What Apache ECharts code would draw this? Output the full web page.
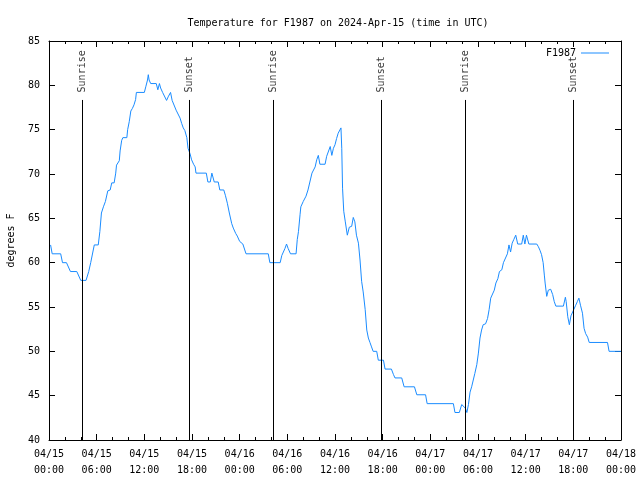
<!DOCTYPE html>
<html>
<head>
<meta charset="utf-8">
<script src="https://cdn.jsdelivr.net/npm/echarts@6/dist/echarts.min.js"></script>
<style>html,body{margin:0;padding:0;background:#fff}#c{width:640px;height:480px}</style>
</head>
<body>
<div id="c"></div>
<script>
// Hours since 2024-04-15 00:00 UTC
const hours = [
0.2,0.4,1.47,1.7,2.2,2.7,3.5,4.0,4.66,5.0,5.25,5.5,5.7,6.2,6.4,6.6,6.85,7.1,7.4,7.7,7.9,8.2,8.4,8.5,8.7,8.85,8.95,9.15,9.3,9.8,9.9,10.1,10.3,10.5,10.7,10.9,11.0,12.0,12.2,12.4,12.5,12.6,12.8,13.5,13.7,13.9,14.05,14.3,14.5,14.8,15.0,15.3,15.5,15.75,16.0,16.2,16.5,16.7,16.9,17.1,17.35,17.5,17.75,17.95,18.2,18.4,18.5,19.8,20.0,20.3,20.5,20.8,21.3,21.5,22.0,22.2,22.45,22.7,23.0,23.2,23.5,23.7,24.0,24.4,24.5,24.8,27.6,27.8,29.1,29.3,29.5,29.7,29.9,30.1,30.4,31.1,31.25,31.4,31.6,31.7,32.0,32.35,32.6,32.85,33.1,33.3,33.5,33.7,33.9,34.1,34.75,34.95,35.1,35.4,35.6,35.8,36.0,36.2,36.4,36.75,36.85,36.95,37.1,37.3,37.55,37.8,38.1,38.3,38.5,38.7,38.95,39.15,39.35,39.55,39.8,40.0,40.2,40.4,40.6,40.8,41.25,41.45,42.1,42.3,43.1,43.35,43.55,44.4,44.7,46.0,46.3,47.4,47.6,50.9,51.1,51.65,51.95,52.15,52.4,52.6,52.8,53.0,53.2,53.4,53.6,53.85,54.05,54.25,54.45,54.65,54.95,55.2,55.4,55.6,55.85,56.05,56.25,56.5,56.7,57.0,57.2,57.45,57.7,57.9,58.1,58.3,58.5,58.75,59.0,59.5,59.7,59.9,60.1,60.4,61.4,61.6,61.8,62.0,62.2,62.35,62.45,62.65,62.85,63.15,63.4,63.6,63.8,64.75,65.0,65.1,65.3,65.5,65.7,65.9,66.05,66.3,66.5,66.7,66.9,67.15,67.35,67.55,67.8,68.0,70.3,70.5,71.5,72.0
];
const temps = [
62.0,61.0,61.0,60.0,60.0,59.0,59.0,58.0,58.0,59.0,60.0,60.0,62.0,62.0,63.5,65.6,66.3,66.9,68.1,68.2,69.0,69.0,70.1,71.0,71.0,71.5,72.6,73.8,74.1,74.1,75.0,75.9,77.1,77.4,77.8,78.4,79.2,79.2,79.9,80.6,81.2,80.6,80.2,80.2,79.5,80.2,79.7,79.2,79.2,78.3,78.7,79.2,78.3,78.2,77.2,77.1,76.3,75.7,75.2,74.9,74.1,72.9,72.3,71.6,71.1,70.8,70.1,70.1,69.1,69.1,70.1,69.1,69.1,68.2,68.2,67.6,66.7,65.6,64.4,63.9,63.3,63.0,62.4,62.1,62.1,61.0,61.0,60.0,60.0,60.8,61.0,61.6,62.1,61.6,61.0,61.0,62.6,63.5,65.4,66.3,66.9,67.5,68.2,68.4,70.1,70.3,70.8,71.6,72.1,71.1,71.1,72.0,72.0,73.1,72.1,72.9,73.3,74.0,74.6,75.2,72.9,68.4,65.8,64.6,63.1,64.0,64.1,65.1,64.6,63.1,62.2,60.3,57.9,56.7,54.7,52.4,51.5,51.0,50.5,50.0,50.0,49.0,49.0,48.0,48.0,47.4,47.0,47.0,46.0,46.0,45.1,45.1,44.1,44.1,43.1,43.1,44.0,44.0,43.6,43.1,44.0,45.4,46.0,46.0,47.5,48.5,49.8,51.5,52.4,53.0,53.1,53.7,54.7,56.0,56.2,56.9,57.7,58.2,59.0,59.2,60.0,60.2,61.0,62.0,61.2,62.2,62.6,63.1,62.1,62.1,63.1,62.1,63.1,62.1,62.1,61.8,61.4,60.9,60.0,58.6,57.7,56.2,56.9,57.0,56.4,55.6,55.1,55.1,56.1,55.6,53.9,53.0,54.0,54.1,54.7,55.2,55.6,56.0,55.2,54.3,52.6,52.0,51.6,51.0,51.0,50.0,50.0,50.0
];
const sunHours = [4.2, 17.66, 28.24, 41.88, 52.45, 66.0];
const sunLabels = ['Sunrise', 'Sunset', 'Sunrise', 'Sunset', 'Sunrise', 'Sunset'];
const xTickLabels = ['04/15\n00:00','04/15\n06:00','04/15\n12:00','04/15\n18:00','04/16\n00:00','04/16\n06:00','04/16\n12:00','04/16\n18:00','04/17\n00:00','04/17\n06:00','04/17\n12:00','04/17\n18:00','04/18\n00:00'];
const seriesName = 'F1987';

const FONT = 'DejaVu Sans Mono';
const lineTop = 78.35;   // top of sun event lines (in y units)
const labelBase = 79.2;  // start of rotated labels

const chart = echarts.init(document.getElementById('c'), null, {renderer: 'canvas'});
const xCommon = {
  type: 'value', min: 0, max: 72, interval: 6,
  axisLine: {show: true, onZero: false, lineStyle: {color: '#000', width: 1}},
  axisTick: {show: true, inside: true, length: 6, lineStyle: {color: '#000'}},
  minorTick: {show: true, splitNumber: 3, length: 3, lineStyle: {color: '#000'}},
  splitLine: {show: false}
};
const yCommon = {
  type: 'value', min: 40, max: 85, interval: 5,
  axisLine: {show: true, onZero: false, lineStyle: {color: '#000', width: 1}},
  axisTick: {show: true, inside: true, length: 6, lineStyle: {color: '#000'}},
  splitLine: {show: false}
};
chart.setOption({
  animation: false,
  backgroundColor: '#fff',
  textStyle: {fontFamily: FONT},
  title: {
    text: 'Temperature for F1987 on 2024-Apr-15 (time in UTC)',
    left: 333, top: 13, textAlign: 'center',
    textStyle: {fontFamily: FONT, fontSize: 10, fontWeight: 'normal', color: '#000'}
  },
  legend: {
    data: [{name: seriesName, icon: 'rect'}], right: 26, top: 43, align: 'right',
    itemWidth: 28, itemHeight: 1, itemGap: 5,
    textStyle: {fontFamily: FONT, fontSize: 10, color: '#000'}
  },
  grid: {left: 49, right: 19, top: 41, bottom: 40, containLabel: false, outerBoundsMode: 'none'},
  xAxis: [
    Object.assign({}, xCommon, {
      position: 'bottom',
      axisLabel: {show: true, margin: 6, fontFamily: FONT, fontSize: 10, color: '#000', lineHeight: 16,
        hideOverlap: false, formatter: v => xTickLabels[Math.round(v / 6)]}
    }),
    Object.assign({}, xCommon, {position: 'top', axisLabel: {show: false}})
  ],
  yAxis: [
    Object.assign({}, yCommon, {
      position: 'left',
      name: 'degrees F', nameLocation: 'middle', nameRotate: 90, nameGap: 33,
      nameTextStyle: {fontFamily: FONT, fontSize: 10, color: '#000'},
      axisLabel: {show: true, margin: 9, fontFamily: FONT, fontSize: 10, color: '#000'}
    }),
    Object.assign({}, yCommon, {position: 'right', axisLabel: {show: false}})
  ],
  series: [
    {
      name: seriesName, type: 'line', xAxisIndex: 0, yAxisIndex: 0,
      data: hours.map((h, i) => [h, temps[i]]),
      symbol: 'none', showSymbol: false,
      lineStyle: {color: '#1a8cff', width: 1},
      itemStyle: {color: '#1a8cff'},
      markLine: {
        silent: true, symbol: ['none', 'none'],
        label: {show: false},
        lineStyle: {color: '#000', width: 1, type: 'solid'},
        emphasis: {disabled: true},
        data: sunHours.map(h => [{coord: [h, 40]}, {coord: [h, lineTop]}])
      },
      z: 3
    },
    {
      name: 'events', type: 'scatter', xAxisIndex: 0, yAxisIndex: 0,
      symbolSize: 0, silent: true,
      data: sunHours.map((h, i) => ({value: [h, labelBase], name: sunLabels[i]})),
      label: {
        show: true, position: [0, 0], rotate: 90, align: 'left', verticalAlign: 'middle',
        formatter: p => p.name, fontFamily: FONT, fontSize: 10, color: '#000'
      }
    }
  ]
});
</script>
</body>
</html>
